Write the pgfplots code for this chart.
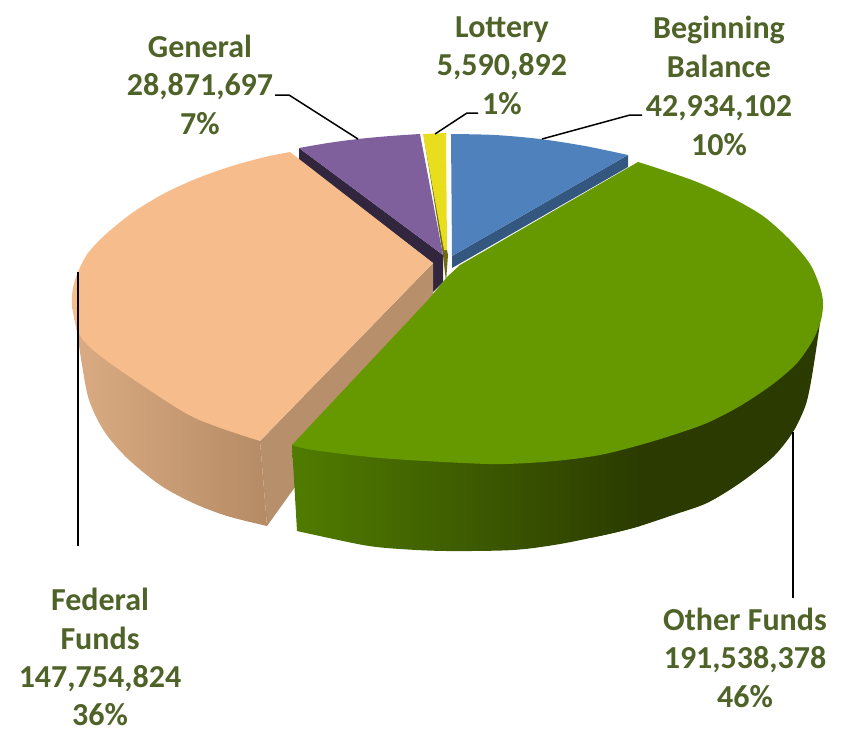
\documentclass[border=0pt]{standalone}
\usepackage{fontspec}
\setmainfont{Carlito}
\usepackage{pgfplots}
\pgfplotsset{compat=1.18}
\definecolor{lab}{HTML}{4F6228}
\newcommand{\lbl}[3]{\node[anchor=base,text=lab,font=\fontsize{32}{34}\selectfont\bfseries,inner sep=0pt] at (axis cs:#1,#2) {#3};}
\begin{document}
\begin{tikzpicture}
\begin{axis}[width=845pt,height=731pt,scale only axis,xmin=0,xmax=845,ymin=0,ymax=731,y dir=reverse,hide axis,clip=false]
\path (axis cs:0,0) rectangle (axis cs:845,731);
% Beginning balance
\addplot[draw=none,fill={rgb,255:red,52;green,87;blue,127}] coordinates {(452,256)(628,155)(628,167)(452,268)} --cycle;
\addplot[smooth,draw=none,fill={rgb,255:red,79;green,129;blue,189}] coordinates {(451,134)(495,135)(540,139)(585,146)(628,155)} -- (axis cs:452,256) --cycle;
% Lottery
\addplot[draw=none,fill={rgb,255:red,111;green,106;blue,16}] coordinates {(424,138)(443,255)(446,282)(448,255)} --cycle;
\addplot[draw=none,fill={rgb,255:red,232;green,222;blue,30}] coordinates {(423,134)(446,133)(447,250)(444,250)} --cycle;
% General
\addplot[draw=none,fill={rgb,255:red,50;green,38;blue,63}] coordinates {(299,148)(299,160)(433,263)(433,292)(443,282)(443,255)} --cycle;
\addplot[smooth,draw=none,fill={rgb,255:red,127;green,96;blue,157}] coordinates {(299,148)(328,143)(358,139)(390,136)(420,134)} -- (axis cs:443,255) --cycle;
% Federal
\addplot[draw=none,fill={rgb,255:red,184;green,143;blue,107}] coordinates {(260,441)(433,263)(433,295)(267,526)} --cycle;
\addplot[smooth,draw=none,left color={rgb,255:red,219;green,172;blue,131},right color={rgb,255:red,181;green,139;blue,101}] coordinates {(72,305)(77,332)(82,365)(89,400)(104,431)(127,458)(160,485)(193,503)(227,516)(267,526)} -- (axis cs:260,441) --cycle;
\addplot[smooth,draw=none,fill={rgb,255:red,246;green,188;blue,140}] coordinates {(260,441)(193,417)(127,375)(93,350)(78,332)(72,305)(73,288)(78,272)(88,253)(105,235)(132,213)(165,193)(198,178)(232,166)(265,157)(290,152)} -- (axis cs:433,263) --cycle;
% Other funds
\addplot[smooth,draw=none,fill={rgb,255:red,43;green,59;blue,0}] coordinates {(823,300)(820,323)(815,357)(810,387)(805,407)(793,432)(773,457)(740,483)(707,503)(673,515)(640,526)(613,533)(590,538)} -- (axis cs:590,300) --cycle;
\addplot[smooth,draw=none,left color={rgb,255:red,80;green,124;blue,0},right color={rgb,255:red,43;green,59;blue,0}] coordinates {(640,526)(613,533)(560,544)(513,550)(447,551)(400,549)(363,545)(297,531)} -- (axis cs:292,445) -- (axis cs:640,400) --cycle;
\addplot[smooth,draw=none,fill={rgb,255:red,102;green,153;blue,0}] coordinates {(638,162)(663,170)(697,182)(730,197)(763,216)(790,240)(810,264)(820,287)(823,303)(821,320)(813,340)(797,363)(773,384)(740,406)(707,423)(673,435)(640,445)(600,455)(555,461)(505,464)(463,463)(380,458)(313,450)(292,445)} -- (axis cs:428,300) -- (axis cs:447,277) -- (axis cs:460,265) --cycle;
% leaders
\addplot[black,line width=1.5pt] coordinates {(275,95)(289,95)(358,139)};
\addplot[black,line width=1.5pt] coordinates {(435,134)(467,113)(478,113)};
\addplot[black,line width=1.5pt] coordinates {(542,139)(630,115)(642,115)};
\addplot[black,line width=1.5pt] coordinates {(78,272)(78,546)};
\addplot[black,line width=1.5pt] coordinates {(793,432)(793,598)};
% labels
\lbl{502}{37}{Lottery}\lbl{502}{75}{5,590,892}\lbl{502}{114}{1\%}
\lbl{719}{38}{Beginning}\lbl{719}{77}{Balance}\lbl{719}{116}{42,934,102}\lbl{719}{155}{10\%}
\lbl{200}{57}{General}\lbl{200}{95}{28,871,697}\lbl{200}{134}{7\%}
\lbl{100}{610}{Federal}\lbl{100}{649}{Funds}\lbl{100}{687}{147,754,824}\lbl{100}{725}{36\%}
\lbl{745}{630}{Other Funds}\lbl{745}{668}{191,538,378}\lbl{745}{707}{46\%}
\end{axis}
\end{tikzpicture}
\end{document}
